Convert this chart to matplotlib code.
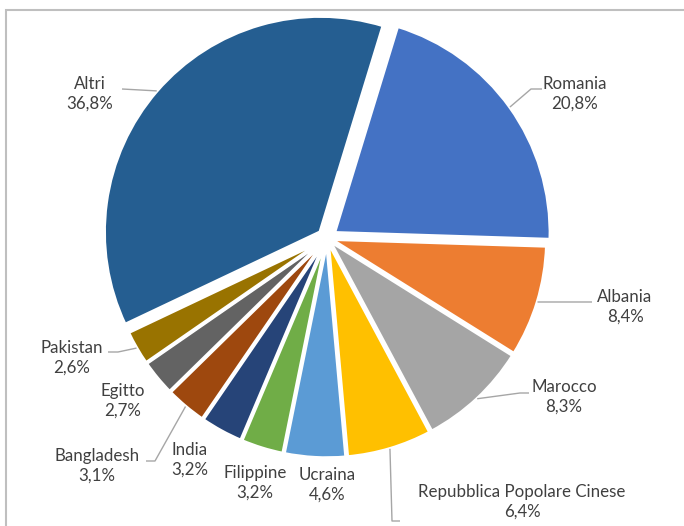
import numpy as np
import matplotlib.pyplot as plt
from matplotlib.patches import Rectangle

plt.rcParams['font.family'] = ['Lato', 'DejaVu Sans']

# data
countries = ['Romania', 'Albania', 'Marocco', 'Repubblica Popolare Cinese', 'Ucraina',
             'Filippine', 'India', 'Bangladesh', 'Egitto', 'Pakistan', 'Altri']
shares = [20.8, 8.4, 8.3, 6.4, 4.6, 3.2, 3.2, 3.1, 2.7, 2.6, 36.8]
colors = ['#4472C4', '#ED7D31', '#A5A5A5', '#FFC000', '#5B9BD5', '#70AD47',
          '#264478', '#9E480E', '#636363', '#997300', '#255E91']

W, H = 684, 526
cx, cy, R = 327, 238, 216
explode = [9, 4, 4, 4, 4, 4, 4, 4, 4, 4, 9]

# label layout in pixels (x, y of the block centre) and leader knees (None = no line)
label_pos = [(575, 94), (625, 307), (564, 397), (522, 502), (327, 485), (255, 483),
             (190, 460), (97, 466), (123, 401), (72, 358), (90, 94)]
leaders = [[(542, 89), (531, 89)], [(592, 302)], [(529, 393), (520, 393)],
           [(400, 521), (392, 521)], None, None, None,
           [(146, 461), (155, 461)], None, [(108, 352), (118, 352)], [(122, 89)]]

fig = plt.figure(figsize=(W / 100, H / 100), dpi=100)
ax = fig.add_axes([0, 0, 1, 1])

wedges, _ = ax.pie(shares, colors=colors, startangle=73, counterclock=False,
                   center=(cx, H - cy), radius=R, explode=explode,
                   wedgeprops=dict(edgecolor='white', linewidth=2.5))

for i, w in enumerate(wedges):
    x, y = label_pos[i]
    pct = f'{shares[i]:.1f}'.replace('.', ',') + '%'
    ax.text(x, H - y + 10, countries[i], ha='center', va='center',
            fontsize=12.2, color='#404040')
    ax.text(x, H - y - 10, pct, ha='center', va='center',
            fontsize=12.2, color='#404040')
    if leaders[i] is not None:
        tm = np.deg2rad((w.theta1 + w.theta2) / 2)
        ex = w.center[0] + w.r * np.cos(tm)
        ey = w.center[1] + w.r * np.sin(tm)
        xs = [p[0] for p in leaders[i]] + [ex]
        ys = [H - p[1] for p in leaders[i]] + [ey]
        ax.plot(xs, ys, color='#A6A6A6', lw=1, solid_capstyle='butt')

fig.patches.append(Rectangle((6 / W, -0.1), 1.2, 1.1 - 10 / H, transform=fig.transFigure,
                             fill=False, edgecolor='#BFBFBF', lw=1.5))

ax.set_xlim(0, W)
ax.set_ylim(0, H)
ax.set_aspect('equal')
ax.axis('off')

fig.savefig('out.png', dpi=100)
